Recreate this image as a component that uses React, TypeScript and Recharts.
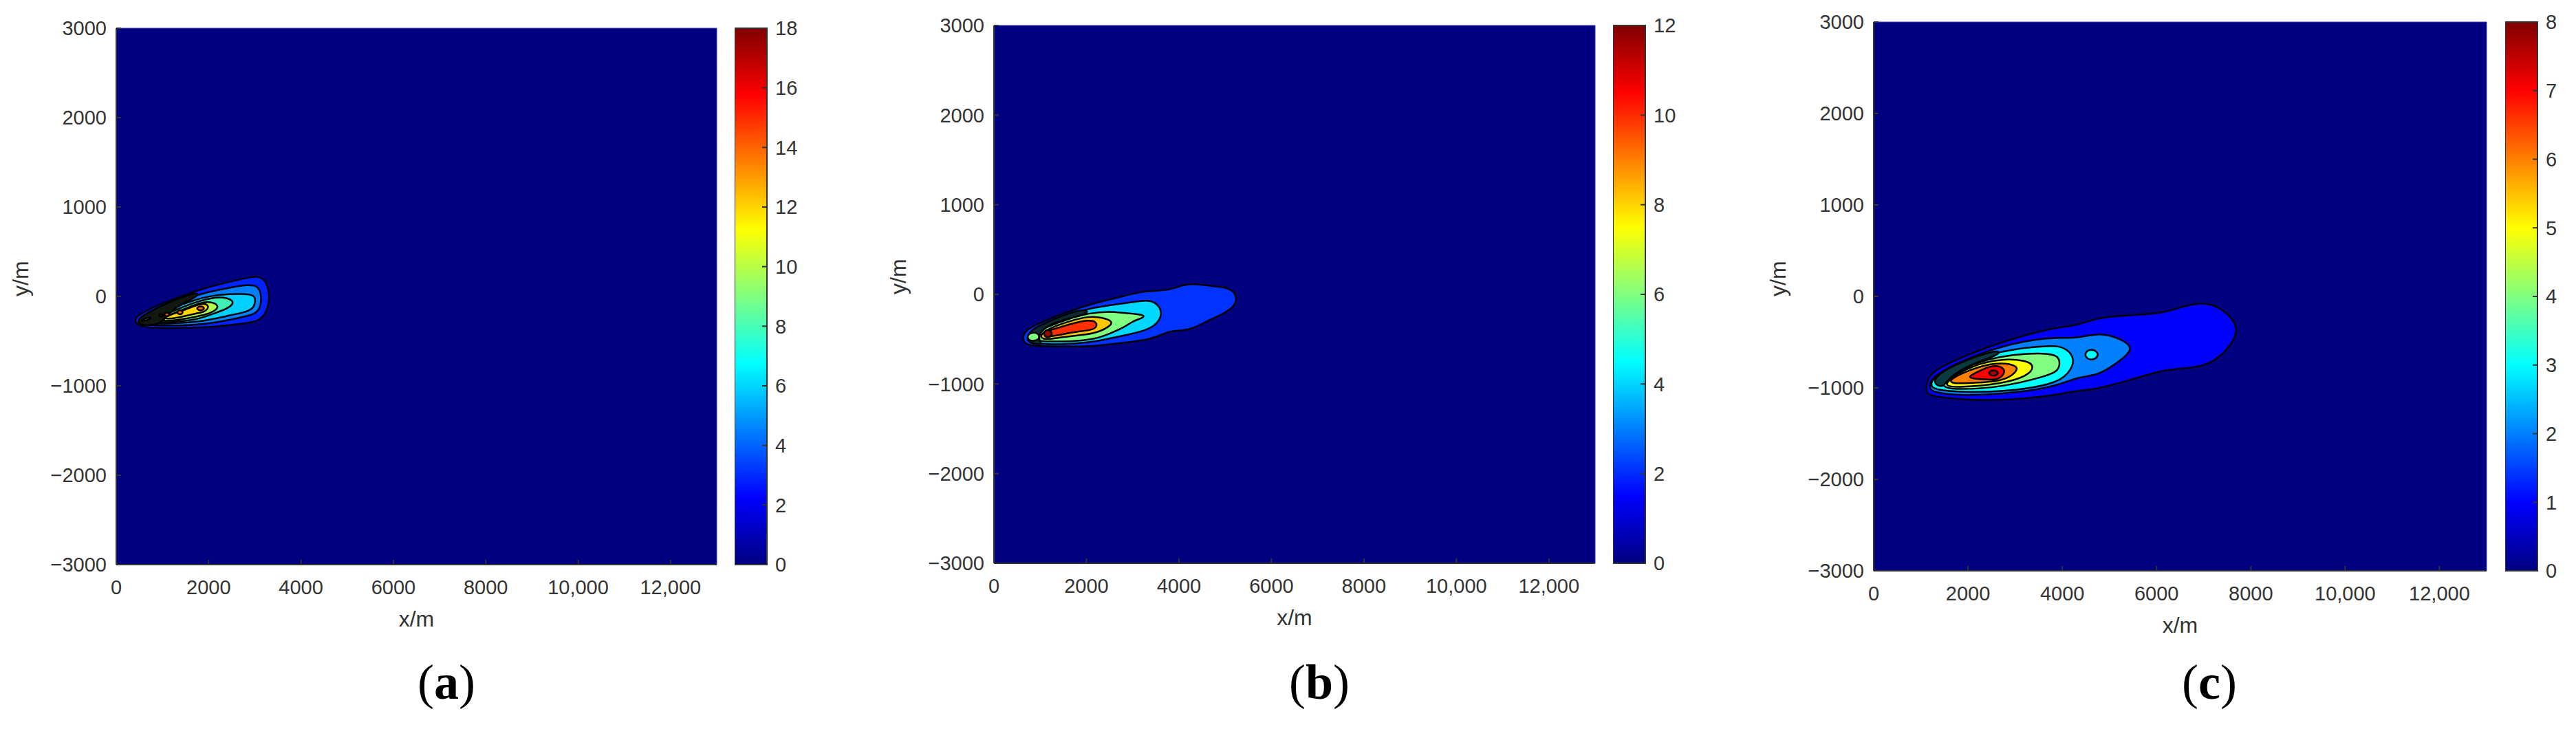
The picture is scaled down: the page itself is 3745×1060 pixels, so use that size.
import { ScatterChart, Scatter, BarChart, Bar, XAxis, YAxis, ReferenceArea } from "recharts";

const xTicks = [0, 2000, 4000, 6000, 8000, 10000, 12000];
const yTicks = [-3000, -2000, -1000, 0, 1000, 2000, 3000];
const barTicksA = [0, 2, 4, 6, 8, 10, 12, 14, 16, 18];
const barTicksB = [0, 2, 4, 6, 8, 10, 12];
const barTicksC = [0, 1, 2, 3, 4, 5, 6, 7, 8];

const jetStops = [
  { at: 0, color: "#000080" },
  { at: 0.125, color: "#0000ff" },
  { at: 0.375, color: "#00ffff" },
  { at: 0.625, color: "#ffff00" },
  { at: 0.875, color: "#ff0000" },
  { at: 1, color: "#800000" },
];

type Pt = [number, number];

// contour outlines, x/m and y/m
const aBlue: Pt[] = [[412, -300], [412, -236], [561, -185], [958, -82], [1455, 8], [1852, 85], [2348, 149], [2745, 200], [3043, 233], [3241, 187], [3331, 8], [3266, -172], [3092, -279], [2745, -305], [1951, -351], [958, -356], [561, -345]];
const aAzure: Pt[] = [[611, -261], [1057, -120], [1554, -18], [1951, 46], [2447, 98], [2844, 131], [3067, 123], [3152, 8], [3117, -146], [2968, -210], [2447, -261], [1951, -312], [1206, -330], [710, -320], [586, -300]];
const aCyan: Pt[] = [[710, -261], [1157, -146], [1653, -43], [2050, 8], [2447, 28], [2943, 28], [3018, -18], [2993, -120], [2844, -172], [2348, -223], [1951, -274], [1206, -305], [760, -305], [660, -287]];
const aTeal: Pt[] = [[809, -261], [1306, -146], [1752, -56], [2149, -5], [2397, -13], [2546, -56], [2497, -107], [2298, -159], [2050, -202], [1752, -261], [1206, -287], [809, -295]];
const aLime: Pt[] = [[958, -248], [1455, -146], [1802, -69], [2075, -56], [2224, -107], [2149, -159], [1951, -202], [1653, -236], [1206, -274], [958, -274]];
const aDense: Pt[] = [[440, -265], [636, -195], [958, -110], [1306, -30], [1752, 50], [1802, 10], [1355, -100], [1107, -200], [958, -320], [520, -330]];
const aYellow: Pt[] = [[1057, -223], [1455, -159], [1802, -82], [1976, -82], [2000, -133], [1901, -177], [1653, -197], [1306, -243], [1057, -254]];
const aTip: Pt[] = [[521, -274], [660, -236], [770, -236], [710, -261], [561, -279]];
const aPeak1: Pt[] = [[1827, -107], [1901, -120], [1901, -146], [1827, -161], [1752, -146], [1752, -120]];
const aPeak2: Pt[] = [[1380, -150], [1440, -165], [1440, -190], [1380, -205], [1320, -190], [1320, -165]];
const aPeak3: Pt[] = [[1097, -180], [1150, -190], [1150, -215], [1097, -225], [1045, -215], [1045, -190]];
const aPeak4: Pt[] = [[973, -198], [1010, -205], [1010, -222], [973, -230], [936, -222], [936, -205]];

const bBlue: Pt[] = [[630, -527], [630, -451], [744, -379], [1066, -302], [1562, -200], [2107, -105], [2802, -21], [3248, 41], [3793, 41], [4091, 112], [4388, 117], [4686, 92], [5033, 81], [5206, 23], [5256, -54], [5181, -144], [4933, -225], [4586, -302], [4289, -387], [4041, -405], [3793, -407], [3421, -502], [2802, -540], [2207, -578], [1562, -584], [1066, -578], [744, -573]];
const bCyan: Pt[] = [[719, -463], [819, -412], [1116, -335], [1562, -233], [2058, -156], [2554, -118], [3000, -87], [3297, -62], [3496, -87], [3635, -182], [3595, -284], [3397, -387], [2901, -451], [2504, -489], [2207, -527], [1562, -558], [1066, -558], [769, -527]];
const bGreen: Pt[] = [[744, -463], [868, -430], [1165, -361], [1612, -272], [2058, -208], [2504, -190], [2802, -208], [3248, -225], [3248, -259], [3000, -297], [2802, -374], [2504, -438], [2182, -502], [1661, -527], [1066, -527], [744, -502]];
const bDense: Pt[] = [[695, -489], [818, -387], [1116, -318], [1562, -220], [2008, -156], [2058, -220], [1562, -272], [1165, -348], [992, -425], [967, -515], [1066, -566], [769, -548]];
const bTip: Pt[] = [[719, -430], [967, -420], [1007, -515], [719, -527]];
const bGold: Pt[] = [[992, -451], [1215, -374], [1612, -302], [2058, -241], [2355, -259], [2578, -302], [2504, -361], [2157, -445], [1661, -463], [1240, -497], [1042, -502]];
const bRed: Pt[] = [[1091, -412], [1314, -387], [1661, -328], [2058, -284], [2207, -302], [2231, -361], [2132, -399], [1711, -420], [1463, -451], [1215, -471], [1076, -456]];
const bPeak: Pt[] = [[1165, -392], [1250, -415], [1255, -460], [1165, -485], [1080, -460], [1080, -415]];

const cBlue: Pt[] = [[1118, -1045], [1118, -945], [1197, -845], [1609, -719], [2637, -506], [3823, -338], [4297, -323], [4732, -231], [5405, -206], [6156, -188], [6709, -80], [7144, -68], [7500, -180], [7737, -331], [7619, -519], [7223, -719], [6828, -782], [6195, -794], [5484, -907], [4693, -1020], [4218, -1033], [3863, -1083], [2637, -1145], [1688, -1120], [1180, -1085]];
const cAzure: Pt[] = [[1190, -1020], [1190, -932], [1292, -870], [1688, -744], [2637, -544], [3744, -439], [4297, -464], [4732, -398], [5167, -444], [5484, -544], [5404, -632], [5049, -769], [4732, -865], [4297, -882], [3823, -995], [2716, -1070], [1688, -1083], [1292, -1045]];
const cIsland: Pt[] = [[4614, -574], [4756, -606], [4756, -664], [4614, -702], [4487, -664], [4487, -606]];
const cCyan: Pt[] = [[1221, -995], [1221, -932], [1332, -870], [1767, -757], [2637, -594], [3823, -526], [4100, -569], [4282, -694], [4139, -845], [3823, -965], [2716, -1045], [1767, -1045], [1371, -1020]];
const cGreen: Pt[] = [[1451, -945], [1846, -794], [2597, -644], [3823, -607], [3965, -694], [3918, -820], [3665, -870], [2716, -995], [1767, -1020], [1490, -995]];
const cDense: Pt[] = [[1292, -882], [1648, -757], [2637, -569], [2716, -632], [2083, -732], [1569, -895], [1490, -995], [1292, -970]];
const cYellow: Pt[] = [[1514, -945], [1925, -794], [2558, -682], [3269, -694], [3412, -769], [3269, -870], [2716, -957], [1767, -995], [1569, -982]];
const cOrange: Pt[] = [[1593, -907], [2083, -794], [2558, -719], [3072, -749], [3032, -832], [2716, -932], [2083, -945], [1648, -957]];
const cRed: Pt[] = [[2020, -870], [2320, -794], [2558, -749], [2771, -782], [2779, -845], [2637, -915], [2320, -907], [2044, -895]];
const cPeak: Pt[] = [[2542, -802], [2637, -820], [2637, -855], [2542, -872], [2447, -855], [2447, -820]];

const panels = [
  {
    name: "a", left: 169, right: 1042, top: 41, bottom: 821, barLeft: 1068, barRight: 1115, max: 18, barTicks: barTicksA, captionX: 649,
    bands: [
      { pts: aBlue, fill: "#0022ff" }, { pts: aAzure, fill: "#0080ff" }, { pts: aCyan, fill: "#00d0ff" },
      { pts: aTeal, fill: "#40f0b0" }, { pts: aLime, fill: "#b0ff50" }, { pts: aDense, fill: "#101810" },
      { pts: aYellow, fill: "#ffd800" }, { pts: aTip, fill: "#a0ff40" }, { pts: aPeak1, fill: "#ff6000" },
      { pts: aPeak2, fill: "#ff6000" }, { pts: aPeak3, fill: "#ff6000" }, { pts: aPeak4, fill: "#c00000" },
    ],
  },
  {
    name: "b", left: 1445, right: 2319, top: 37, bottom: 819, barLeft: 2345, barRight: 2392, max: 12, barTicks: barTicksB, captionX: 1918,
    bands: [
      { pts: bBlue, fill: "#0033ff" }, { pts: bCyan, fill: "#00d8ff" }, { pts: bGreen, fill: "#80ff80" },
      { pts: bDense, fill: "#0a2a30" }, { pts: bTip, fill: "#80ff80" }, { pts: bGold, fill: "#ffc800" },
      { pts: bRed, fill: "#ff3000" }, { pts: bPeak, fill: "#a00000" },
    ],
  },
  {
    name: "c", left: 2724, right: 3615, top: 32, bottom: 830, barLeft: 3642, barRight: 3689, max: 8, barTicks: barTicksC, captionX: 3212,
    bands: [
      { pts: cBlue, fill: "#0000ff" }, { pts: cAzure, fill: "#0080ff" }, { pts: cIsland, fill: "#00ffff" },
      { pts: cCyan, fill: "#00ffff" }, { pts: cGreen, fill: "#80ff80" }, { pts: cDense, fill: "#0a3a40" },
      { pts: cYellow, fill: "#ffff00" }, { pts: cOrange, fill: "#ff8000" }, { pts: cRed, fill: "#ff0000" },
      { pts: cPeak, fill: "#a00000" },
    ],
  },
];

const FONT = "'Liberation Sans', Arial, sans-serif";
const TEXT = "#333";
const tickStyle = { fontSize: 29, fill: TEXT, fontFamily: FONT };
const labelStyle = { fontSize: 32, fill: TEXT, fontFamily: FONT };
const axisStroke = { stroke: "#333", strokeWidth: 2 };

const PAD_LEFT = 169; // room left of the plot for tick labels and y/m
const fmtX = (v: number) => (v >= 10000 ? v.toLocaleString("en-US") : String(v));
const fmtY = (v: number) => (v < 0 ? `\u2212${-v}` : String(v));

function Panel({ p }: { p: (typeof panels)[number] }) {
  const plotW = p.right - p.left;
  const barData = [{ name: p.name, value: p.max }];
  const gradientId = `jet-${p.name}`;
  return (
    <>
      <div style={{ position: "absolute", left: p.left - PAD_LEFT, top: 0 }}>
        <ScatterChart
          width={plotW + PAD_LEFT + 2}
          height={1060}
          margin={{ top: p.top, right: 2, left: 29, bottom: 1060 - p.bottom - 100 }}
        >
          <XAxis
            type="number"
            dataKey="x"
            domain={[0, 13000]}
            ticks={xTicks}
            interval={0}
            allowDataOverflow
            height={100}
            tickSize={-7}
            tickMargin={29}
            tick={tickStyle}
            tickFormatter={fmtX}
            axisLine={axisStroke}
            tickLine={axisStroke}
            label={{ value: "x/m", position: "insideBottom", offset: 10, style: labelStyle }}
          />
          <YAxis
            type="number"
            dataKey="y"
            domain={[-3000, 3000]}
            ticks={yTicks}
            interval={0}
            allowDataOverflow
            width={140}
            tickSize={-7}
            tickMargin={21}
            tick={tickStyle}
            tickFormatter={fmtY}
            axisLine={axisStroke}
            tickLine={axisStroke}
            label={{ value: "y/m", angle: -90, position: "insideLeft", offset: 1, style: labelStyle }}
          />
          <ReferenceArea x1={0} x2={13000} y1={-3000} y2={3000} fill="#000080" fillOpacity={1} stroke="#3a3ab0" strokeWidth={1} />
          {p.bands.map((b, i) => (
            <Scatter
              key={i}
              data={b.pts.map(([x, y]) => ({ x, y }))}
              isAnimationActive={false}
              shape={() => <g />}
              line={{ fill: b.fill, stroke: "#000", strokeWidth: 2.5 }}
              lineJointType="basisClosed"
            />
          ))}
        </ScatterChart>
      </div>
      <div style={{ position: "absolute", left: p.barLeft, top: 0 }}>
        <BarChart
          width={p.barRight - p.barLeft + 70}
          height={1060}
          data={barData}
          barCategoryGap={0}
          margin={{ top: p.top, right: 0, left: 0, bottom: 1060 - p.bottom }}
        >
          <defs>
            <linearGradient id={gradientId} x1="0" y1="1" x2="0" y2="0">
              {jetStops.map((s) => (
                <stop key={s.at} offset={s.at} stopColor={s.color} />
              ))}
            </linearGradient>
          </defs>
          <XAxis dataKey="name" hide />
          <YAxis
            orientation="right"
            type="number"
            domain={[0, p.max]}
            ticks={p.barTicks}
            interval={0}
            width={70}
            tickSize={-7}
            tickMargin={19}
            tick={tickStyle}
            axisLine={false}
            tickLine={axisStroke}
          />
          <Bar dataKey="value" fill={`url(#${gradientId})`} stroke="#333" strokeWidth={2} isAnimationActive={false} />
        </BarChart>
      </div>
      <div
        style={{
          position: "absolute",
          left: p.captionX - 60,
          width: 120,
          top: 950,
          textAlign: "center",
          fontFamily: "'Liberation Serif', serif",
          fontSize: 72,
          lineHeight: "84px",
          color: "#000",
        }}
      >
        (<b>{p.name}</b>)
      </div>
    </>
  );
}

export default function App() {
  return (
    <div style={{ position: "absolute", left: 0, top: 0, width: 3745, height: 1060, background: "#fff", overflow: "hidden" }}>
      {panels.map((p) => (
        <Panel key={p.name} p={p} />
      ))}
    </div>
  );
}
